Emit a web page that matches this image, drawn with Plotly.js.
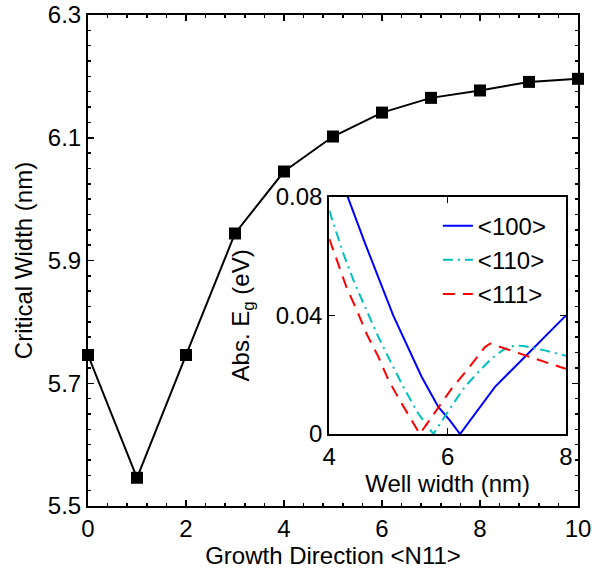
<!DOCTYPE html>
<html>
<head>
<meta charset="utf-8">
<script src="https://cdn.plot.ly/plotly-3.0.1.min.js"></script>
<style>html,body{margin:0;padding:0;background:#fff;}#chart{width:594px;height:570px;}</style>
</head>
<body>
<div id="chart"></div>
<script>
// Main plot data
var growthDir = [0, 1, 2, 3, 4, 5, 6, 7, 8, 9, 10];
var criticalWidth = [5.746, 5.546, 5.746, 5.944, 6.045, 6.102, 6.141, 6.165, 6.177, 6.191, 6.196];

// Inset data
var well100 = [4.31, 4.6, 5.08, 5.56, 5.84, 6.04, 6.21, 6.8, 7.08, 7.36, 8.0];
var eg100 = [0.080, 0.0645, 0.040, 0.0193, 0.0092, 0.0045, 0.0, 0.0159, 0.0215, 0.0271, 0.040];

var well110 = [4.0, 4.07, 4.24, 4.43, 4.63, 4.83, 5.05, 5.28, 5.50, 5.76, 6.04, 6.29, 6.52, 6.74, 6.95, 7.14, 7.31, 7.64, 8.0];
var eg110 = [0.0753, 0.0708, 0.0607, 0.0507, 0.0417, 0.0327, 0.0238, 0.0148, 0.0070, 0.0, 0.0086, 0.0159, 0.0209, 0.0254, 0.0285, 0.0299, 0.0296, 0.0282, 0.0264];

var well111 = [4.0, 4.15, 4.29, 4.46, 4.63, 4.83, 5.0, 5.19, 5.42, 5.53, 5.87, 6.07, 6.35, 6.63, 6.72, 6.97, 7.36, 7.64, 7.90, 8.0];
var eg111 = [0.0658, 0.0574, 0.0495, 0.0420, 0.0338, 0.0260, 0.0182, 0.0114, 0.0036, 0.0, 0.0097, 0.0154, 0.0221, 0.0293, 0.0305, 0.0288, 0.0260, 0.0243, 0.0226, 0.0220];

var seriesNames = ['&lt;100&gt;', '&lt;110&gt;', '&lt;111&gt;'];
var mainXTicks = [0, 2, 4, 6, 8, 10];
var mainYTicks = [5.5, 5.7, 5.9, 6.1, 6.3];
var insetXTicks = [4, 6, 8];
var insetYTicks = [0, 0.04, 0.08];
var insetYTickText = ['0', '0.04', '0.08'];

var FONT = 'Liberation Sans, Arial, Helvetica, sans-serif';

var traces = [
  {x: growthDir, y: criticalWidth, xaxis: 'x', yaxis: 'y', type: 'scatter', mode: 'lines+markers',
   line: {color: '#000', width: 2}, marker: {symbol: 'square', size: 12, color: '#000'},
   showlegend: false, cliponaxis: false, hoverinfo: 'skip'},
  {x: well100, y: eg100, xaxis: 'x2', yaxis: 'y2', type: 'scatter', mode: 'lines', name: seriesNames[0],
   line: {color: '#0000ff', width: 2}},
  {x: well110, y: eg110, xaxis: 'x2', yaxis: 'y2', type: 'scatter', mode: 'lines', name: seriesNames[1],
   line: {color: 'rgb(0,191,191)', width: 2, dash: '10px,5px,2px,5px'}},
  {x: well111, y: eg111, xaxis: 'x2', yaxis: 'y2', type: 'scatter', mode: 'lines', name: seriesNames[2],
   line: {color: '#ff0000', width: 2, dash: '12px,8px'}}
];

var axisCommon = {
  showline: true, linecolor: '#000', linewidth: 2, mirror: 'allticks',
  ticks: 'inside', tickcolor: '#000', tickwidth: 1.5, showgrid: false, zeroline: false,
  tickfont: {family: FONT, size: 24, color: '#000'}
};

var layout = {
  width: 594, height: 570,
  margin: {l: 88, r: 16, t: 15, b: 64},
  paper_bgcolor: '#fff', plot_bgcolor: '#fff',
  font: {family: FONT, size: 24, color: '#000'},
  xaxis: Object.assign({}, axisCommon, {
    domain: [0, 1], range: [0, 10], tickvals: mainXTicks, ticklen: 6,
    minor: {dtick: 0.4, tick0: 0, ticks: 'inside', ticklen: 3, tickcolor: '#000', tickwidth: 1.5},
    title: {text: 'Growth Direction &lt;N11&gt;', font: {family: FONT, size: 24, color: '#000'}, standoff: 4}
  }),
  yaxis: Object.assign({}, axisCommon, {
    domain: [0, 1], range: [5.5, 6.3], tickvals: mainYTicks, tickformat: '.1f', ticklen: 6,
    minor: {dtick: 0.025, tick0: 5.5, ticks: 'inside', ticklen: 3, tickcolor: '#000', tickwidth: 1.5},
    title: {text: 'Critical Width (nm)', font: {family: FONT, size: 24, color: '#000'}, standoff: 8}
  }),
  xaxis2: Object.assign({}, axisCommon, {
    domain: [0.4924, 0.9755], anchor: 'y2', range: [4, 8], tickvals: insetXTicks, ticklen: 6,
    title: {text: 'Well width (nm)', font: {family: FONT, size: 24, color: '#000'}, standoff: 2}
  }),
  yaxis2: Object.assign({}, axisCommon, {
    domain: [0.1466, 0.630], anchor: 'x2', range: [0, 0.08], tickvals: insetYTicks, ticktext: insetYTickText, ticklen: 6,
    title: {text: 'Abs. E<sub>g</sub> (eV)', font: {family: FONT, size: 24, color: '#000'}, standoff: 19}
  }),
  showlegend: true,
  legend: {
    x: 0.714, y: 0.616, xanchor: 'left', yanchor: 'top',
    bgcolor: 'rgba(255,255,255,0)', borderwidth: 0,
    font: {family: FONT, size: 24, color: '#000'},
    tracegroupgap: 0
  }
};

Plotly.newPlot('chart', traces, layout, {displayModeBar: false, staticPlot: true});
</script>
</body>
</html>
